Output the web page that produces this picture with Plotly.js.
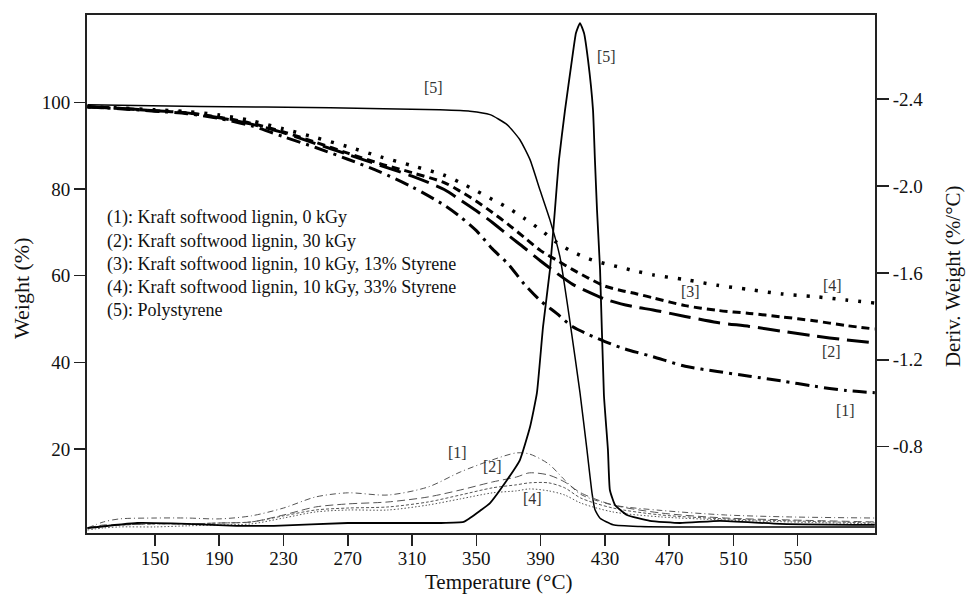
<!DOCTYPE html>
<html><head><meta charset="utf-8">
<script src="https://cdn.plot.ly/plotly-3.0.1.min.js"></script>
<style>html,body{margin:0;padding:0;background:#fff}#c{width:969px;height:595px}</style>
</head><body><div id="c"></div>
<script>
// Temperature grid (°C) for lignin weight curves
const T_LIG = [108,130,150,170,190,210,230,250,270,290,310,330,340,350,360,370,380,390,400,410,420,430,440,450,460,480,500,520,540,560,580,598];
const W1 = [99.0,98.5,98.0,97.4,96.3,94.6,92.1,89.6,86.9,84.0,80.5,76.3,73.6,70.4,66.2,62.6,58.0,54.2,51.3,48.2,46.4,44.8,43.4,42.3,41.3,39.1,37.9,36.8,35.7,34.5,33.5,33.0];
const W2 = [99.0,98.6,98.1,97.6,96.5,95.0,93.0,90.5,88.0,85.5,83.0,79.9,77.5,75.0,72.3,69.3,66.4,63.4,60.6,58.0,56.2,54.6,53.5,52.7,52.1,50.6,49.2,48.3,47.2,46.1,45.2,44.5];
const W3 = [99.0,98.6,98.1,97.6,96.6,95.2,93.2,90.8,88.3,85.9,83.8,81.5,79.5,77.2,74.6,71.8,68.8,65.8,63.6,61.4,59.4,57.6,56.6,55.8,54.9,53.1,52.0,51.3,50.5,49.6,48.5,47.7];
const W4 = [99.0,98.7,98.3,97.9,97.1,95.8,93.9,91.9,89.8,87.5,85.4,83.2,81.5,79.6,77.6,75.6,73.2,70.6,67.7,65.5,63.9,62.8,61.9,61.0,60.2,59.1,57.8,56.8,55.8,55.2,54.4,53.7];

// Polystyrene weight
const T_PSW = [108,178,259,327,346,358.5,369.1,377.1,383.4,389.6,395.8,402.0,408.3,414.5,418.9,422.0,423.8,427.0,435.1,451.8,476.7,598];
const W_PS = [99.5,99.1,98.8,98.3,98.0,97.2,94.9,91.4,86.8,79.8,72.9,64.4,49.3,33.0,19.6,9.8,6.0,4.0,2.5,2.1,2.0,2.0];

// Derivative weight (%/°C), lignin samples
const T_D = [108,118,128,150,170,190,210,230,250,270,295,320,340,360,375,383,395,405,415,435,465,505,545,598];
const D1 = [-0.425,-0.453,-0.467,-0.471,-0.471,-0.467,-0.481,-0.517,-0.568,-0.587,-0.577,-0.614,-0.683,-0.739,-0.771,-0.766,-0.720,-0.646,-0.580,-0.531,-0.506,-0.485,-0.476,-0.471];
const D2 = [-0.425,-0.439,-0.439,-0.444,-0.444,-0.448,-0.453,-0.485,-0.522,-0.536,-0.545,-0.568,-0.600,-0.637,-0.660,-0.679,-0.669,-0.637,-0.587,-0.531,-0.494,-0.471,-0.462,-0.453];
const D3 = [-0.425,-0.435,-0.439,-0.444,-0.444,-0.448,-0.453,-0.481,-0.508,-0.517,-0.522,-0.545,-0.577,-0.610,-0.624,-0.633,-0.633,-0.610,-0.563,-0.517,-0.485,-0.467,-0.458,-0.448];
const D4 = [-0.416,-0.425,-0.430,-0.430,-0.435,-0.439,-0.444,-0.471,-0.499,-0.508,-0.508,-0.531,-0.559,-0.587,-0.596,-0.605,-0.596,-0.577,-0.540,-0.499,-0.476,-0.462,-0.453,-0.444];

// Derivative weight, polystyrene
const T_PSD = [108,139,170,201,224,270,327,342,346,358.5,369.1,377.1,383.4,387.7,391.5,395.8,398.9,401.4,405.2,409.5,412.0,414.5,417.0,419.5,422.6,423.8,425.1,427.0,429.4,431.9,433.1,436.3,443.7,458.0,476.7,501.6,539.0,598];
const D_PS = [-0.425,-0.448,-0.444,-0.435,-0.435,-0.448,-0.448,-0.453,-0.471,-0.540,-0.646,-0.738,-0.890,-1.047,-1.351,-1.614,-1.890,-2.120,-2.351,-2.581,-2.705,-2.751,-2.705,-2.581,-2.351,-2.120,-1.890,-1.614,-1.038,-0.785,-0.600,-0.531,-0.485,-0.458,-0.448,-0.458,-0.444,-0.439];

const X_TICKS = [150,190,230,270,310,350,390,430,470,510,550];
const Y_TICKS = [20,40,60,80,100];
const Y2_TICKS = [-2.4,-2.0,-1.6,-1.2,-0.8];
const Y2_TEXT = ['-2.4','-2.0','-1.6','-1.2','-0.8'];

const X_TITLE = 'Temperature (°C)';
const Y_TITLE = 'Weight (%)';
const Y2_TITLE = 'Deriv. Weight (%/°C)';

const LEGEND_LINES = [
  '(1): Kraft softwood lignin, 0 kGy',
  '(2): Kraft softwood lignin, 30 kGy',
  '(3): Kraft softwood lignin, 10 kGy, 13% Styrene',
  '(4): Kraft softwood lignin, 10 kGy, 33% Styrene',
  '(5): Polystyrene'
];
// curve tags: [text, T, Weight-axis value]
const TAGS = [
  ['[5]',323.6,103.4],['[5]',431.3,110.6],['[3]',483.5,56.3],['[4]',571.9,57.7],
  ['[2]',571.3,42.4],['[1]',580.0,29.0],['[1]',338.0,19.1],['[2]',360.3,15.9],['[4]',385.2,8.5]
];

const FONT = 'Liberation Serif';
const thinGray = '#555';
const traces = [
  {x:T_D,y:D1,yaxis:'y2',mode:'lines',line:{color:thinGray,width:1,dash:'6px,3px,1px,3px',shape:'spline',smoothing:0.8}},
  {x:T_D,y:D2,yaxis:'y2',mode:'lines',line:{color:thinGray,width:1,dash:'8px,4px',shape:'spline',smoothing:0.8}},
  {x:T_D,y:D3,yaxis:'y2',mode:'lines',line:{color:thinGray,width:1,dash:'3px,2px',shape:'spline',smoothing:0.8}},
  {x:T_D,y:D4,yaxis:'y2',mode:'lines',line:{color:thinGray,width:1,dash:'1.5px,2px',shape:'spline',smoothing:0.8}},
  {x:T_PSD,y:D_PS,yaxis:'y2',mode:'lines',line:{color:'#000',width:1.8,shape:'spline',smoothing:0.4}},
  {x:T_LIG,y:W1,mode:'lines',line:{color:'#000',width:3,dash:'14px,6px,3px,6px',shape:'spline',smoothing:0.8}},
  {x:T_LIG,y:W2,mode:'lines',line:{color:'#000',width:3,dash:'22px,8px',shape:'spline',smoothing:0.8}},
  {x:T_LIG,y:W3,mode:'lines',line:{color:'#000',width:3,dash:'8px,5px',shape:'spline',smoothing:0.8}},
  {x:T_LIG,y:W4,mode:'lines',line:{color:'#000',width:3.5,dash:'3px,10px',shape:'spline',smoothing:0.8}},
  {x:T_PSW,y:W_PS,mode:'lines',line:{color:'#000',width:1.5,shape:'spline',smoothing:0.5}}
];

const annotations = [];
LEGEND_LINES.forEach((t,i)=>{
  annotations.push({text:t,xref:'paper',yref:'paper',x:0.023,y:1-(217.7+i*23.3-15)/518,
    xanchor:'left',yanchor:'middle',showarrow:false,font:{family:FONT,size:18,color:'#111'}});
});
TAGS.forEach(a=>{
  annotations.push({text:a[0],x:a[1],y:a[2],xref:'x',yref:'y',showarrow:false,
    xanchor:'center',yanchor:'middle',font:{family:FONT,size:16,color:'#333'}});
});
const titleFont = {family:FONT,size:21,color:'#111'};
annotations.push({text:X_TITLE,xref:'paper',yref:'paper',x:0.5216,y:-0.0946,xanchor:'center',yanchor:'middle',showarrow:false,font:titleFont});
annotations.push({text:Y_TITLE,xref:'paper',yref:'paper',x:-0.0825,y:0.473,xanchor:'center',yanchor:'middle',textangle:-90,showarrow:false,font:{family:FONT,size:22,color:'#111'}});
annotations.push({text:Y2_TITLE,xref:'paper',yref:'paper',x:1.099,y:0.496,xanchor:'center',yanchor:'middle',textangle:-90,showarrow:false,font:titleFont});

const axFont = {family:FONT,size:19,color:'#111'};
const layout = {
  width:969,height:595,margin:{l:87,r:94,t:15,b:62},
  paper_bgcolor:'#fff',plot_bgcolor:'#fff',showlegend:false,
  font:{family:FONT,color:'#111'},
  xaxis:{range:[107.7,598.1],tickvals:X_TICKS,ticks:'outside',ticklen:11,tickwidth:1.5,tickcolor:'#222',
    showline:true,linewidth:2,linecolor:'#222',mirror:true,showgrid:false,zeroline:false,tickfont:axFont,
    ticklabelstandoff:-4},
  yaxis:{range:[0.6,120.2],tickvals:Y_TICKS,ticks:'outside',ticklen:11,tickwidth:1.5,tickcolor:'#222',
    showline:true,linewidth:2,linecolor:'#222',showgrid:false,zeroline:false,tickfont:axFont},
  yaxis2:{overlaying:'y',side:'right',range:[-0.402,-2.788],tickvals:Y2_TICKS,ticktext:Y2_TEXT,
    ticks:'outside',ticklen:12,tickwidth:1.5,tickcolor:'#222',showline:true,linewidth:2,linecolor:'#222',
    showgrid:false,zeroline:false,tickfont:axFont},
  annotations:annotations
};
Plotly.newPlot('c',traces,layout,{staticPlot:true,displayModeBar:false});
</script></body></html>
